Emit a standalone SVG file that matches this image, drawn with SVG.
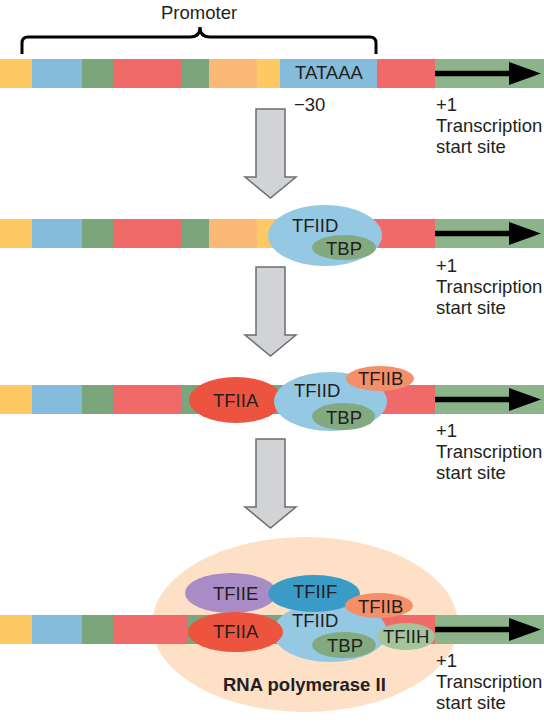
<svg xmlns="http://www.w3.org/2000/svg" width="544" height="724" viewBox="0 0 544 724">
<defs>
<style>
text{font-family:"Liberation Sans",Arial,sans-serif;font-size:18.5px;fill:#231f20}
.b{font-weight:bold}
.y{fill:#fec863}.bl{fill:#86bcdb}.g{fill:#7ba57a}.r{fill:#f06a6a}.o{fill:#fbb877}.g2{fill:#8db38a}
.gray{fill:#d1d3d4;stroke:#6d6e71;stroke-width:1.5}
.dna{fill:none;stroke:#000;stroke-width:5.5}
.tfiid{fill:#95c8e3}.tbp{fill:#82a97f}.tfiia{fill:#ec5440}.tfiib{fill:#f39069}
.tfiie{fill:#a98bc5}.tfiif{fill:#3a9cc6}.tfiih{fill:#a3c49c}.pol{fill:#fde0c6}
</style>
<g id="strip">
<rect class="y" x="0" y="0" width="32" height="29"/>
<rect class="bl" x="32" y="0" width="50" height="29"/>
<rect class="g" x="82" y="0" width="31" height="29"/>
<rect class="r" x="113" y="0" width="69" height="29"/>
<rect class="g" x="182" y="0" width="27" height="29"/>
<rect class="o" x="209" y="0" width="48" height="29"/>
<rect class="y" x="257" y="0" width="23" height="29"/>
<rect class="bl" x="280" y="0" width="97" height="29"/>
<rect class="r" x="377" y="0" width="58" height="29"/>
<rect class="g2" x="435" y="0" width="109" height="29"/>
<line class="dna" x1="435" y1="14.5" x2="514" y2="14.5"/>
<polygon points="509,3 541,14.5 509,26" fill="#000"/>
</g>
<polygon id="bigarrow" class="gray" points="256,0 285,0 285,68 296,68 270.5,89 245,68 256,68"/>
</defs>

<g id="stage1">
<use href="#strip" y="59"/>
<path d="M22,54 V43 Q22,37 28,37 H190 Q200,37 200,27 Q200,37 210,37 H370 Q376,37 376,43 V54" fill="none" stroke="#000" stroke-width="3"/>
<text x="161" y="19">Promoter</text>
<text x="295" y="79">TATAAA</text>
<text x="294" y="111">−30</text>
<text x="436" y="111">+1</text>
<text x="436" y="132">Transcription</text>
<text x="436" y="153">start site</text>
</g>

<g id="connectors">
<use href="#bigarrow" y="109"/>
<use href="#bigarrow" y="267"/>
<use href="#bigarrow" y="439"/>
</g>

<g id="stage2">
<use href="#strip" y="219"/>
<rect class="y" x="257" y="219" width="68" height="29"/>
<rect class="r" x="325" y="219" width="110" height="29"/>
<g id="tfiid2"><ellipse class="tfiid" cx="325" cy="235.5" rx="57" ry="30.5"/><text x="292" y="232">TFIID</text></g>
<g id="tbp2"><ellipse class="tbp" cx="344" cy="247.5" rx="32" ry="12.5"/><text x="326" y="255">TBP</text></g>
<text x="436" y="272">+1</text>
<text x="436" y="293">Transcription</text>
<text x="436" y="314">start site</text>
</g>

<g id="stage3">
<use href="#strip" y="385"/>
<rect class="g" x="182" y="385" width="118" height="29"/>
<rect class="r" x="300" y="385" width="135" height="29"/>
<g id="tfiia3"><ellipse class="tfiia" cx="236" cy="400" rx="47" ry="23"/><text x="213" y="407">TFIIA</text></g>
<g id="tfiid3"><ellipse class="tfiid" cx="330.5" cy="401.5" rx="56.5" ry="29.5"/><text x="294" y="397">TFIID</text></g>
<g id="tbp3"><ellipse class="tbp" cx="343.5" cy="416.5" rx="31.5" ry="13.5"/><text x="326" y="424">TBP</text></g>
<g id="tfiib3"><ellipse class="tfiib" cx="380" cy="378.5" rx="34" ry="12.5"/><text x="358" y="385">TFIIB</text></g>
<text x="436" y="437">+1</text>
<text x="436" y="458">Transcription</text>
<text x="436" y="479">start site</text>
</g>

<g id="stage4">
<g id="rnapol"><ellipse class="pol" cx="305" cy="624.5" rx="153" ry="87.5"/></g>
<use href="#strip" y="615"/>
<rect class="r" x="113" y="615" width="75" height="29"/>
<rect class="g" x="188" y="615" width="112" height="29"/>
<rect class="r" x="300" y="615" width="135" height="29"/>
<g id="tfiid4"><ellipse class="tfiid" cx="330" cy="632" rx="57" ry="30"/><text x="292" y="627">TFIID</text></g>
<g id="tfiie4"><ellipse class="tfiie" cx="231" cy="593" rx="46" ry="20"/><text x="213" y="600">TFIIE</text></g>
<g id="tfiia4"><ellipse class="tfiia" cx="235.5" cy="632" rx="47.5" ry="20"/><text x="213" y="638">TFIIA</text></g>
<g id="tfiif4"><ellipse class="tfiif" cx="314" cy="593.5" rx="46" ry="18.5"/><text x="293" y="598">TFIIF</text></g>
<g id="tfiib4"><ellipse class="tfiib" cx="379" cy="605.5" rx="34" ry="12.5"/><text x="358" y="613">TFIIB</text></g>
<g id="tbp4"><ellipse class="tbp" cx="344" cy="645" rx="32" ry="13"/><text x="327" y="652">TBP</text></g>
<g id="tfiih4"><ellipse class="tfiih" cx="406" cy="636.5" rx="29" ry="13.5"/><text x="383" y="643">TFIIH</text></g>
<text class="b" x="223" y="691">RNA polymerase II</text>
<text x="436" y="667">+1</text>
<text x="436" y="688">Transcription</text>
<text x="436" y="709">start site</text>
</g>
</svg>
